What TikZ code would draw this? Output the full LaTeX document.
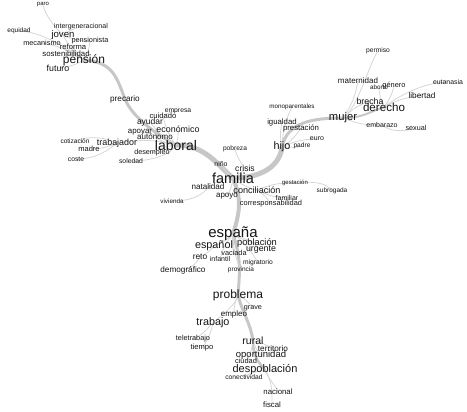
\documentclass[tikz,border=0pt]{standalone}
\usepackage{fontspec}
\setmainfont{Liberation Sans}
\usetikzlibrary{backgrounds}
\newcommand\wsize[1]{\fontsize{#1}{#1}\selectfont}
\begin{document}
\begin{tikzpicture}[x=1pt,y=-1pt,
  every node/.style={inner sep=0pt,text=black!92},
  word/.style={font=\wsize{#1}},
  trunk/.style={draw=black!22,line width=#1,line cap=round},
  twig/.style={draw=black!16,line width=0.8pt}]
\useasboundingbox (0,0) rectangle (467,412);
% pension
\node[word=6] (paro) at (43,5) {paro};
\node[word=7] (intergeneracional) at (81,27) {intergeneracional};
\node[word=6.5] (equidad) at (19,31) {equidad};
\node[word=9.6] (joven) at (63,35) {joven};
\node[word=7.3] (mecanismo) at (42,43) {mecanismo};
\node[word=7.3] (pensionista) at (90,41) {pensionista};
\node[word=7.6] (reforma) at (73,47) {reforma};
\node[word=7.8] (sostenibilidad) at (66,54) {sostenibilidad};
\node[word=12] (pension) at (84,60) {pensión};
\node[word=8.8] (futuro) at (58,68) {futuro};
\node[word=8.2] (precario) at (125,99) {precario};
% laboral
\node[word=6.8] (empresa) at (178,111) {empresa};
\node[word=7.6] (cuidado) at (163,116) {cuidado};
\node[word=8.5] (ayudar) at (150,122) {ayudar};
\node[word=8.9] (economico) at (178,129) {económico};
\node[word=7.9] (apoyar) at (140,132) {apoyar};
\node[word=8] (autonomo) at (155,137) {autónomo};
\node[word=14] (laboral) at (176,145) {laboral};
\node[word=8.9] (trabajador) at (117,143) {trabajador};
\node[word=6.5] (cotizacion) at (75,141) {cotización};
\node[word=7.5] (madre) at (89,149) {madre};
\node[word=6.8] (coste) at (76,159) {coste};
\node[word=7.2] (desempleo) at (152,153) {desempleo};
\node[word=6.8] (soledad) at (131,161) {soledad};
% familia
\node[word=6.6] (pobreza) at (235,149) {pobreza};
\node[word=6.9] (nino) at (221,164) {niño};
\node[word=8.6] (crisis) at (245,168) {crisis};
\node[word=14.5] (familia) at (233,178) {familia};
\node[word=8.1] (natalidad) at (208,187) {natalidad};
\node[word=9.1] (conciliacion) at (257,190) {conciliación};
\node[word=8] (apoyo) at (227,196) {apoyo};
\node[word=6] (gestacion) at (295,183) {gestación};
\node[word=6.5] (subrogada) at (332,191) {subrogada};
\node[word=7] (familiar) at (287,198) {familiar};
\node[word=7.4] (corresponsabilidad) at (271,204) {corresponsabilidad};
\node[word=6.3] (vivienda) at (172,201) {vivienda};
% hijo
\node[word=10.8] (hijo) at (282,147) {hijo};
\node[word=6.6] (padre) at (302,146) {padre};
\node[word=7] (euro) at (317,139) {euro};
\node[word=6.3] (monoparentales) at (292,107) {monoparentales};
\node[word=7.8] (igualdad) at (282,122) {igualdad};
\node[word=7.8] (prestacion) at (301,128) {prestación};
% mujer
\node[word=6.7] (permiso) at (378,51) {permiso};
\node[word=8] (maternidad) at (358,81) {maternidad};
\node[word=6.3] (aborto) at (379,87) {aborto};
\node[word=7.4] (genero) at (394,86) {género};
\node[word=6.9] (eutanasia) at (448,82) {eutanasia};
\node[word=8.2] (libertad) at (422,96) {libertad};
\node[word=8.8] (brecha) at (370,101) {brecha};
\node[word=11.6] (derecho) at (384,107) {derecho};
\node[word=11.2] (mujer) at (343,118) {mujer};
\node[word=7] (embarazo) at (382,125) {embarazo};
\node[word=7.2] (sexual) at (416,128) {sexual};
% espana
\node[word=15] (espana) at (233,234) {españa};
\node[word=10.8] (espanol) at (214,246) {español};
\node[word=9.3] (poblacion) at (257,243) {población};
\node[word=8.8] (urgente) at (261,250) {urgente};
\node[word=7.3] (vaciada) at (234,253) {vaciada};
\node[word=8.4] (reto) at (200,257) {reto};
\node[word=7] (infantil) at (220,259) {infantil};
\node[word=6.7] (migratorio) at (258,263) {migratorio};
\node[word=6.5] (provincia) at (241,270) {provincia};
\node[word=8.2] (demografico) at (183,270) {demográfico};
% problema
\node[word=12] (problema) at (238,295) {problema};
\node[word=7.2] (grave) at (253,308) {grave};
\node[word=8] (empleo) at (234,314) {empleo};
\node[word=10.8] (trabajo) at (213,323) {trabajo};
\node[word=7.3] (teletrabajo) at (193,339) {teletrabajo};
\node[word=7.6] (tiempo) at (202,348) {tiempo};
\node[word=10.5] (rural) at (253,341) {rural};
\node[word=8.2] (territorio) at (273,349) {territorio};
\node[word=9.5] (oportunidad) at (261,355) {oportunidad};
\node[word=7.4] (ciudad) at (246,361) {ciudad};
\node[word=11] (despoblacion) at (265,370) {despoblación};
\node[word=6.7] (conectividad) at (244,377) {conectividad};
\node[word=7.8] (nacional) at (278,392) {nacional};
\node[word=7.8] (fiscal) at (272,405) {fiscal};

\begin{scope}[on background layer]
\draw[trunk=3pt] (pension.center) .. controls +(30,2) and +(-8,-20) .. (precario.center);
\draw[trunk=3pt] (precario.center) .. controls +(8,20) and +(-15,-8) .. (laboral.center);
\draw[trunk=5pt] (laboral.center) .. controls +(30,0) and +(-15,-12) .. (familia.center);
\draw[trunk=5pt] (familia.center) .. controls +(30,0) and +(-2,18) .. (hijo.center);
\draw[trunk=3pt] (hijo.center) .. controls +(5,-25) and +(-30,0) .. (mujer.center);
\draw[trunk=2pt] (mujer.center) .. controls +(20,0) and +(-15,5) .. (derecho.center);
\draw[trunk=4pt] (familia.center) .. controls +(8,20) and +(8,-25) .. (espana.center);
\draw[trunk=3pt] (espana.center) .. controls +(8,25) and +(2,-25) .. (problema.center);
\draw[trunk=3pt] (problema.center) .. controls +(5,20) and +(-3,-20) .. (rural.center);
\draw[trunk=2.5pt] (rural.center) .. controls +(0,15) and +(-8,-10) .. (despoblacion.center);
\draw[twig] (paro.center) .. controls +(3,12) and +(-8,-8) .. (joven.center);
\draw[twig] (equidad.center) .. controls +(20,0) and +(-15,-12) .. (pension.center);
\draw[twig] (cotizacion.center) .. controls +(15,-6) and +(-10,-5) .. (trabajador.center);
\draw[twig] (coste.center) .. controls +(20,0) and +(-10,8) .. (trabajador.center);
\draw[twig] (soledad.center) .. controls +(20,0) and +(-5,10) .. (laboral.center);
\draw[twig] (vivienda.center) .. controls +(20,0) and +(-5,8) .. (natalidad.center);
\draw[twig] (gestacion.center) .. controls +(20,-2) and +(-5,-8) .. (subrogada.center);
\draw[twig] (mujer.center) .. controls +(15,-10) and +(-10,15) .. (permiso.center);
\draw[twig] (derecho.center) .. controls +(20,-15) and +(-20,0) .. (eutanasia.center);
\draw[twig] (embarazo.center) .. controls +(10,8) and +(-10,3) .. (sexual.center);
\draw[twig] (reto.center) .. controls +(-5,8) and +(10,-3) .. (demografico.center);
\draw[twig] (despoblacion.center) .. controls +(5,12) and +(-3,-8) .. (nacional.center);
\draw[twig] (despoblacion.center) .. controls +(8,12) and +(0,-10) .. (fiscal.center);
\draw[twig] (problema.center) .. controls +(-3,12) and +(8,-8) .. (trabajo.center);
\draw[twig] (trabajo.center) .. controls +(-8,8) and +(8,-3) .. (teletrabajo.center);
\foreach \a/\b in {pension/joven, pension/reforma, pension/futuro, joven/intergeneracional,
  pensionista/pension, laboral/ayudar, laboral/autonomo, laboral/cuidado, cuidado/empresa,
  trabajador/madre, familia/nino, crisis/pobreza, familia/apoyo, conciliacion/gestacion,
  conciliacion/corresponsabilidad, hijo/igualdad, hijo/monoparentales, hijo/euro,
  mujer/brecha, derecho/aborto, derecho/libertad, espana/espanol, espana/urgente,
  espanol/reto, espana/migratorio, problema/grave, trabajo/tiempo, rural/territorio,
  rural/ciudad}
  \draw[twig] (\a.center) to[bend left=12] (\b.center);
\foreach \a/\b in {pension/sostenibilidad, pension/mecanismo, joven/pensionista,
  laboral/apoyar, laboral/economico, laboral/desempleo, laboral/trabajador,
  familia/crisis, familia/natalidad, familia/conciliacion, conciliacion/familiar,
  hijo/prestacion, hijo/padre, mujer/maternidad, derecho/genero, mujer/embarazo,
  espana/poblacion, espana/vaciada, espana/infantil, espana/provincia, problema/empleo,
  rural/oportunidad, despoblacion/conectividad}
  \draw[twig] (\a.center) to[bend right=12] (\b.center);
\end{scope}
\end{tikzpicture}
\end{document}
